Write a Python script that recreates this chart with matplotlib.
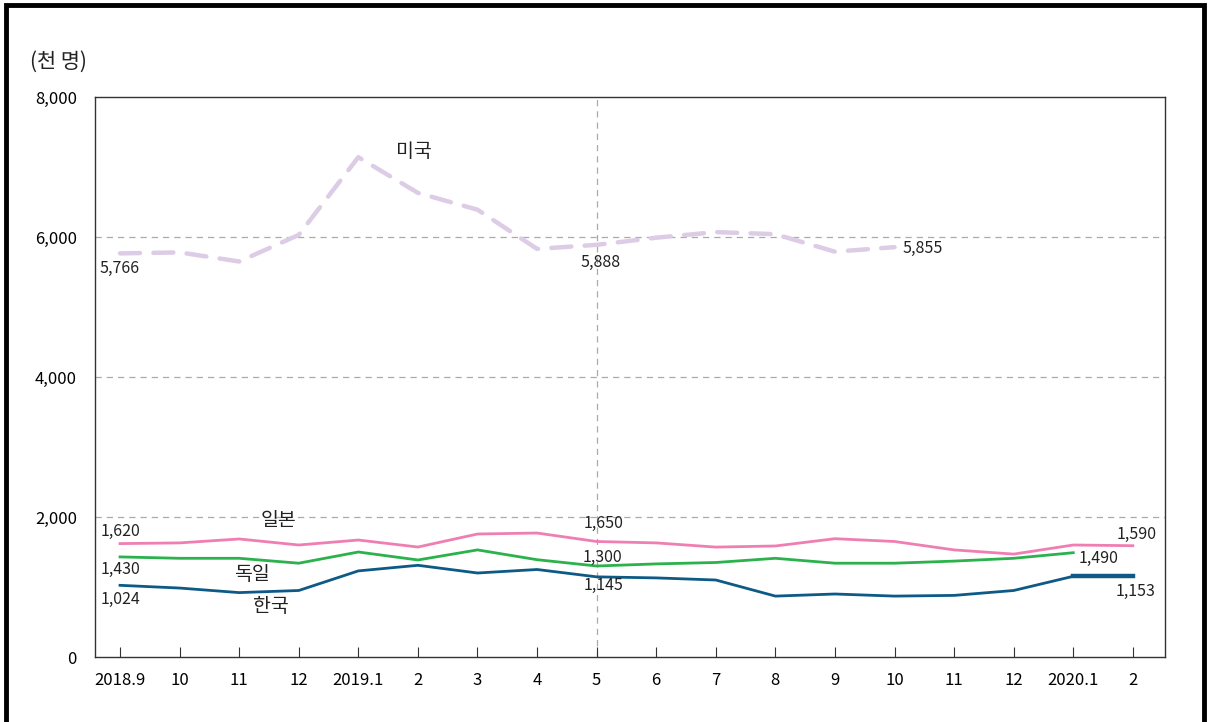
import matplotlib.pyplot as plt
from matplotlib.patches import Rectangle

plt.rcParams['font.family'] = ['Noto Sans CJK KR', 'DejaVu Sans']

months = ['2018.9', '10', '11', '12', '2019.1', '2', '3', '4', '5',
          '6', '7', '8', '9', '10', '11', '12', '2020.1', '2']

usa = [5766, 5780, 5650, 6030, 7140, 6630, 6390, 5830, 5888, 5990,
       6070, 6040, 5790, 5855]
japan = [1620, 1630, 1686, 1600, 1671, 1571, 1757, 1771, 1650, 1630,
         1570, 1586, 1690, 1650, 1530, 1470, 1600, 1590]
germany = [1430, 1410, 1410, 1340, 1500, 1386, 1530, 1390, 1300, 1330,
           1350, 1410, 1340, 1340, 1370, 1410, 1490]
korea = [1024, 985, 920, 950, 1230, 1310, 1200, 1250, 1145, 1130,
         1100, 870, 900, 870, 880, 950, 1153, 1153]

c_usa = '#dccce6'
c_japan = '#ef7fb3'
c_germany = '#2bb24c'
c_korea = '#0e5a86'

fig = plt.figure(figsize=(12.1, 7.22), dpi=100)
ax = fig.add_axes([95 / 1210, 1 - 657 / 722, 1070 / 1210, 560 / 722])

x = list(range(len(months)))

# grid
for g in [2000, 4000, 6000]:
    ax.axhline(g, color='#aaaaaa', lw=0.9, ls=(0, (5, 4)), zorder=1)
ax.axvline(8, color='#aaaaaa', lw=0.9, ls=(0, (5, 4)), zorder=1)

ax.plot(x[:len(usa)], usa, color=c_usa, lw=3.2, ls=(0, (4.5, 3)),
        solid_capstyle='round', dash_capstyle='round', zorder=3)
ax.plot(x, japan, color=c_japan, lw=2.0, zorder=3)
ax.plot(x[:len(germany)], germany, color=c_germany, lw=2.0, zorder=3)
ax.plot(x, korea, color=c_korea, lw=2.0, zorder=3)
ax.plot(x[-2:], korea[-2:], color=c_korea, lw=3.2, zorder=3)

ax.set_xlim(-0.42, 17.54)
ax.set_ylim(0, 8000)
ax.set_yticks([0, 2000, 4000, 6000, 8000])
ax.set_yticklabels(['0', '2,000', '4,000', '6,000', '8,000'])
ax.set_xticks(x)
ax.set_xticklabels(months)
ax.tick_params(axis='x', direction='in', length=7, width=0.8,
               color='#333333', labelsize=12, pad=11)
ax.tick_params(axis='y', length=0, labelsize=12, pad=13)
for s in ax.spines.values():
    s.set_color('#333333')
    s.set_linewidth(1.0)

fs = 11.5


def lbl(i, v, dx, dy, text=None, ha='center'):
    ax.annotate(text if text else f'{v:,}', (i, v), xytext=(dx, dy),
                textcoords='offset points', ha=ha, va='center',
                fontsize=fs, color='#222222', zorder=5)


# value labels
lbl(0, usa[0], 0, -11)
lbl(8, usa[8], 3, -13)
lbl(13, usa[13], 20, -1)
lbl(0, japan[0], 0, 9)
lbl(8, japan[8], 5, 13)
lbl(17, japan[17], 3, 8)
lbl(0, germany[0], 0, -9)
lbl(8, germany[8], 4, 6)
lbl(16, germany[16], 18, -4)
lbl(0, korea[0], 0, -10)
lbl(8, korea[8], 5, -6)
lbl(17, korea[17], 2, -11)

# series names
ax.annotate('미국', (4, usa[4]), xytext=(40, 4), textcoords='offset points',
            ha='center', va='center', fontsize=14, color='#222222')
ax.annotate('일본', (2, japan[2]), xytext=(28, 13), textcoords='offset points',
            ha='center', va='center', fontsize=14, color='#222222')
ax.annotate('독일', (2, germany[2]), xytext=(9, -12), textcoords='offset points',
            ha='center', va='center', fontsize=14, color='#222222')
ax.annotate('한국', (2, korea[2]), xytext=(23, -10), textcoords='offset points',
            ha='center', va='center', fontsize=14, color='#222222')

fig.text(30 / 1210, 1 - 62 / 722, '(천 명)', fontsize=15, color='#222222',
         ha='left', va='center')

# outer frame
fig.patches.append(Rectangle((6 / 1210, -0.05), 1198 / 1210, 1.05 - 5 / 722,
                             transform=fig.transFigure, fill=False,
                             edgecolor='black', lw=3.5))

fig.savefig('out.png', dpi=100)
